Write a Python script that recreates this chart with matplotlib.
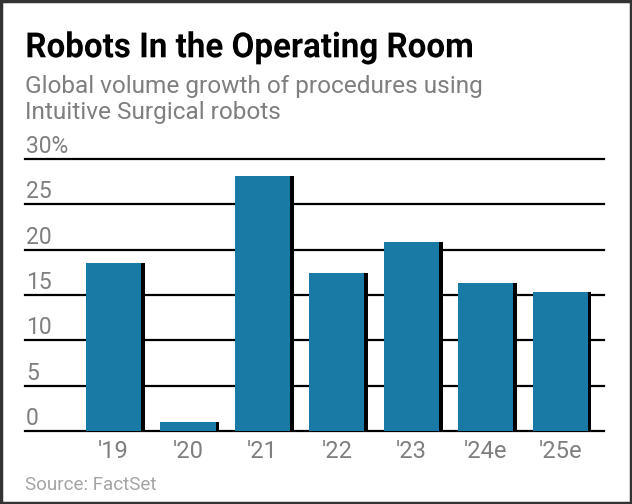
import numpy as np
import matplotlib
matplotlib.use('Agg')
import matplotlib.pyplot as plt
from matplotlib.textpath import TextPath
from matplotlib.patches import PathPatch, Rectangle
from matplotlib.font_manager import FontProperties
from matplotlib.transforms import Affine2D, IdentityTransform

# data
years = ["'19", "'20", "'21", "'22", "'23", "'24e", "'25e"]
growth = [18.5, 1.0, 28.1, 17.4, 20.9, 16.3, 15.3]
yticks = [0, 5, 10, 15, 20, 25, 30]
ytick_labels = ['0', '5', '10', '15', '20', '25', '30%']

W, H = 632, 504
BLUE = '#1a7aa6'
GRAY = '#7f7f7f'

fig = plt.figure(figsize=(W / 100, H / 100), dpi=100)
fig.patch.set_facecolor('white')

# axes placed in pixel terms: x 25..604, y(0)=431, y(30)=159
ax = fig.add_axes([25 / W, (H - 431) / H, (604 - 25) / W, (431 - 159) / H])
ax.set_xlim(-1.19, 6.59)
ax.set_ylim(0, 30)
ax.axis('off')

x = np.arange(len(years))
bw = 0.74
shadow = 0.05
for yv in yticks:
    ax.axhline(yv, color='black', lw=1.6, zorder=1, clip_on=False)
ax.bar(x + shadow / 2, growth, width=bw + shadow, color='black', zorder=2)
ax.bar(x, growth, width=bw, color=BLUE, zorder=3)

for yv, lab in zip(yticks, ytick_labels):
    ax.annotate(lab, (0, yv), xycoords=('figure pixels', 'data'),
                xytext=(26, 6), textcoords=('figure pixels', 'offset pixels'),
                fontsize=16.5, color=GRAY, family='Roboto', va='baseline', ha='left')

for xi, lab in zip(x, years):
    ax.annotate(lab, (xi, 0), xytext=(0, -27), textcoords='offset pixels',
                fontsize=17, color=GRAY, family='Roboto', ha='center', va='baseline')

# condensed bold title drawn as a path squeezed horizontally
fp = FontProperties(family='Roboto', weight='bold')
tp = TextPath((0, 0), 'Robots In the Operating Room', size=100, prop=fp)
ext = tp.get_extents()
sx = (472 - 27.5) / ext.width
sy = 24.7 / (0.711 * 100)
tr = Affine2D().translate(-ext.x0, 0).scale(sx, sy).translate(27.5, H - 57.3)
fig.patches.append(PathPatch(tp, transform=tr + IdentityTransform(),
                             facecolor='black', edgecolor='none'))

fig.text(25 / W, 1 - 92.7 / H, 'Global volume growth of procedures using',
         fontsize=17.6, color=GRAY, family='Roboto', va='baseline', ha='left')
fig.text(25 / W, 1 - 119.5 / H, 'Intuitive Surgical robots',
         fontsize=17.6, color=GRAY, family='Roboto', va='baseline', ha='left')
fig.text(25 / W, 1 - 490 / H, 'Source: FactSet',
         fontsize=13.5, color='#a4a4a4', family='Roboto', va='baseline', ha='left')

fig.patches.append(Rectangle((0.002, 0.002), 0.996, 0.996, transform=fig.transFigure,
                             fill=False, edgecolor='#333333', lw=2.5))

fig.savefig('out.png', dpi=100)
